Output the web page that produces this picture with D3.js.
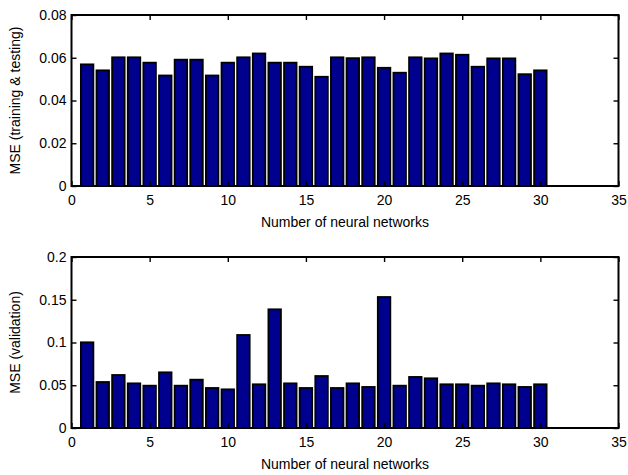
<!DOCTYPE html>
<html>
<head>
<meta charset="utf-8">
<script src="https://cdn.jsdelivr.net/npm/d3@7"></script>
<style>
  body { margin: 0; background: #fff; }
  svg text { font-family: "Liberation Sans", Arial, sans-serif; fill: #000; }
</style>
</head>
<body>
<svg id="chart" width="628" height="475"></svg>
<script>
// values
let networks = d3.range(1, 31)
let mseTrainTest = [
  0.0569, 0.0541, 0.0602, 0.0602, 0.0577, 0.0517, 0.0591, 0.0591, 0.0517, 0.0577,
  0.0602, 0.0620, 0.0577, 0.0577, 0.0558, 0.0511, 0.0602, 0.0598, 0.0602, 0.0553,
  0.0530, 0.0602, 0.0597, 0.0620, 0.0614, 0.0558, 0.0597, 0.0597, 0.0523, 0.0541
]
let mseValidation = [
  0.1002, 0.0538, 0.0620, 0.0522, 0.0495, 0.0651, 0.0495, 0.0565, 0.0468, 0.0452,
  0.1088, 0.0511, 0.1388, 0.0522, 0.0468, 0.0608, 0.0468, 0.0522, 0.0480, 0.1532,
  0.0495, 0.0597, 0.0581, 0.0511, 0.0511, 0.0495, 0.0522, 0.0511, 0.0480, 0.0511
]
let xTicks = [0, 5, 10, 15, 20, 25, 30, 35]
let yTicksTop = [0, 0.02, 0.04, 0.06, 0.08]
let yTicksBottom = [0, 0.05, 0.1, 0.15, 0.2]

let svg = d3.select("#chart")
let box = {left: 71.5, right: 618.5}
let tickLen = 5
let fontSize = 14

function draw_panel(values, yTicks, yMax, top, bottom, ylabel) {
  let g = svg.append("g")
  let x = d3.scaleLinear().domain([0, 35]).range([box.left, box.right])
  let y = d3.scaleLinear().domain([0, yMax]).range([bottom, top])
  let barW = x(0.8) - x(0)

  g.selectAll("rect.bar")
    .data(values).enter()
    .append("rect")
    .attr("class", "bar")
    .attr("x", (d, i) => x(networks[i]) - barW / 2)
    .attr("y", d => y(d))
    .attr("width", barW)
    .attr("height", d => y(0) - y(d))
    .attr("fill", "#00008f")
    .attr("stroke", "#000")
    .attr("stroke-width", 1.8)

  let fmt = d => d === 0 ? "0" : String(d)

  let axes = [
    [d3.axisBottom(x).tickValues(xTicks).tickFormat(d => d).tickPadding(9), `translate(0,${bottom})`],
    [d3.axisTop(x).tickValues(xTicks).tickFormat(""), `translate(0,${top})`],
    [d3.axisLeft(y).tickValues(yTicks).tickFormat(fmt).tickPadding(5), `translate(${box.left},0)`],
    [d3.axisRight(y).tickValues(yTicks).tickFormat(""), `translate(${box.right},0)`]
  ]
  axes.forEach(([ax, tr]) => {
    let a = g.append("g")
      .attr("transform", tr)
      .call(ax.tickSizeInner(-tickLen).tickSizeOuter(0))
    a.select(".domain").remove()
    a.selectAll("line").attr("stroke", "#000").attr("stroke-width", 1.4)
    a.selectAll("text").attr("font-size", fontSize).style("font-family", "'Liberation Sans', Arial, sans-serif")
  })

  g.append("rect")
    .attr("x", box.left)
    .attr("y", top)
    .attr("width", box.right - box.left)
    .attr("height", bottom - top)
    .attr("fill", "none")
    .attr("stroke", "#000")
    .attr("stroke-width", 2)

  g.append("text")
    .attr("x", (box.left + box.right) / 2)
    .attr("y", bottom + 41)
    .attr("text-anchor", "middle")
    .attr("font-size", fontSize)
    .text("Number of neural networks")

  g.append("text")
    .attr("transform", `translate(20,${(top + bottom) / 2})rotate(-90)`)
    .attr("text-anchor", "middle")
    .attr("font-size", fontSize)
    .text(ylabel)
}

draw_panel(mseTrainTest, yTicksTop, 0.08, 15, 186, "MSE (training & testing)")
draw_panel(mseValidation, yTicksBottom, 0.2, 257, 428, "MSE (validation)")
</script>
</body>
</html>
